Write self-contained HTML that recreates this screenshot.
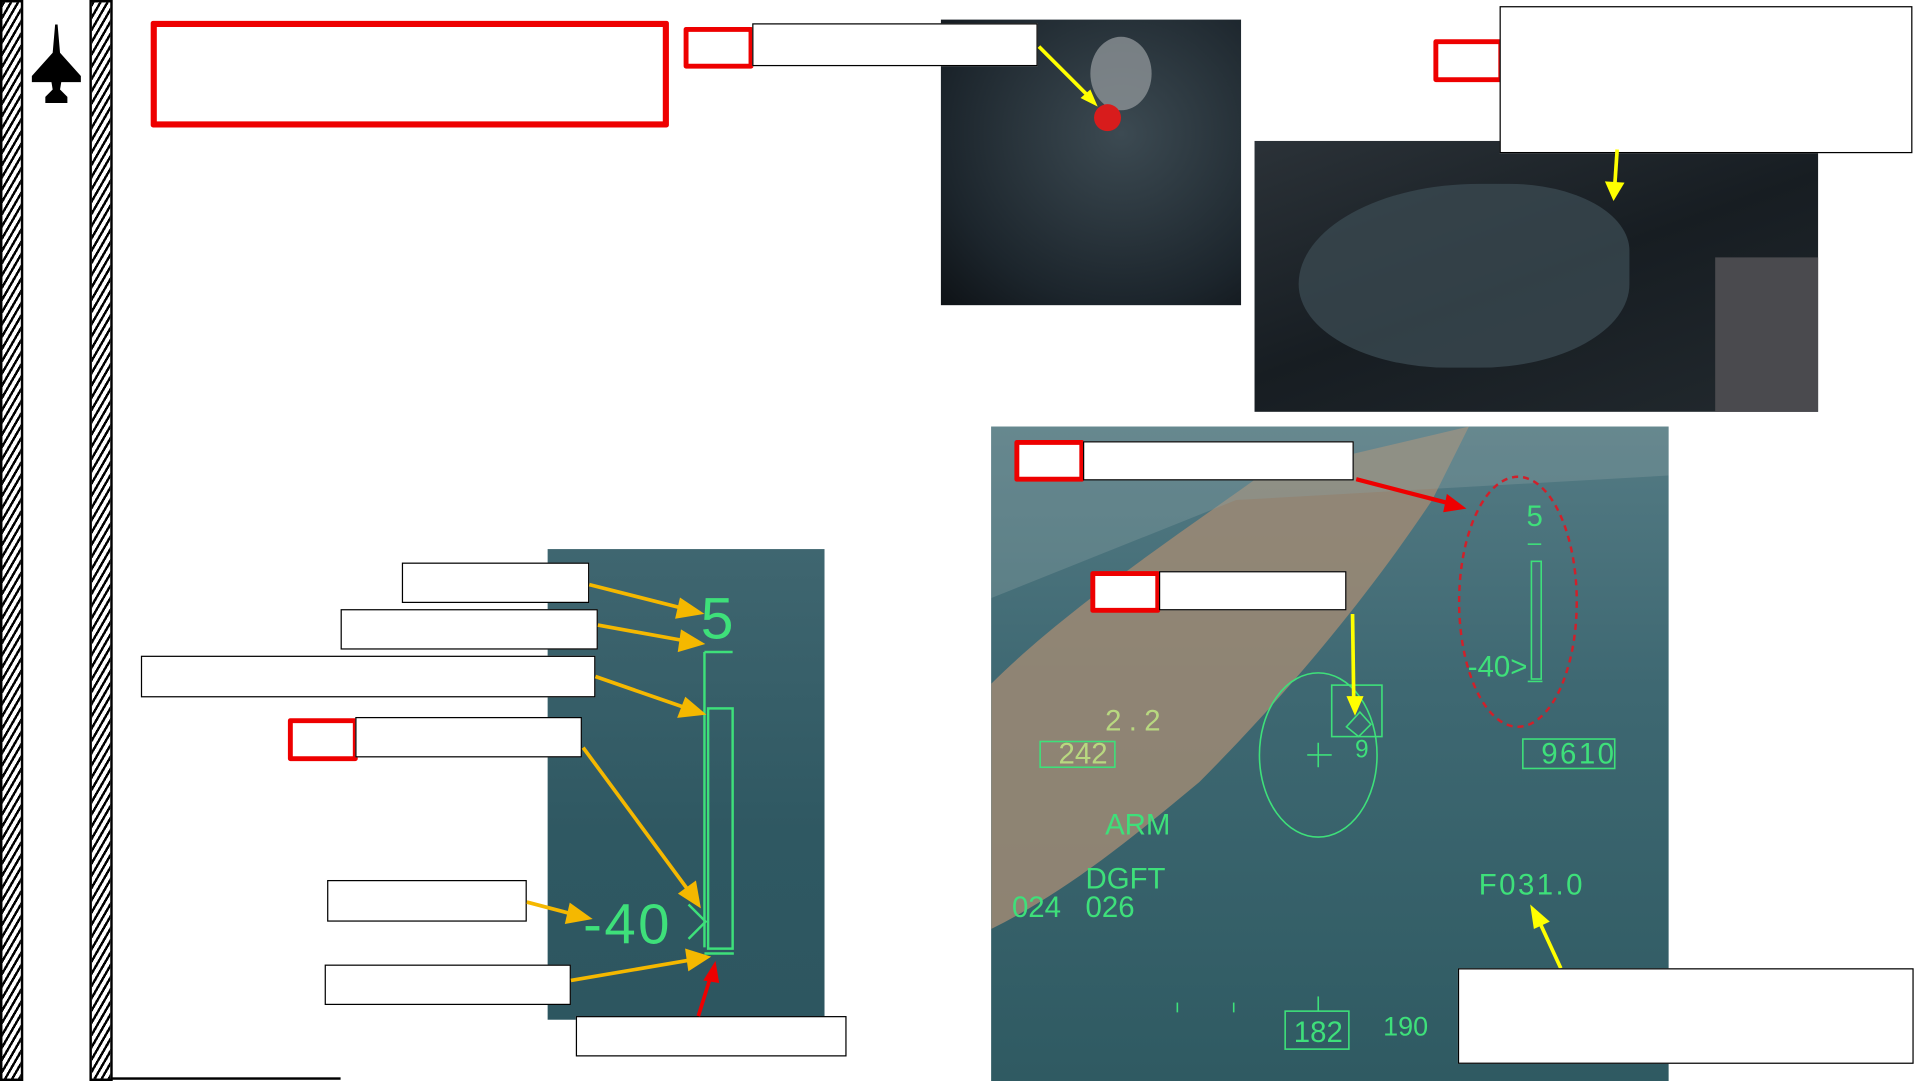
<!DOCTYPE html>
<html><head><meta charset="utf-8"><style>
html,body{margin:0;padding:0;background:#fff;overflow:hidden;width:1921px;height:1081px}
#w{position:absolute;left:0;top:0;width:1568px;height:882px;transform:scale(1.22513,1.22562);transform-origin:0 0;font-family:"Liberation Sans",sans-serif}
.a{position:absolute;box-sizing:border-box}
.wb{background:#fff;border:1.5px solid #000}
.rb{border:4px solid #e00;background:#fff;border-radius:2px}
.hatch{background:repeating-linear-gradient(-60deg,#000 0 2px,#fff 2px 5px);border:2px solid #000}
.g{color:#3ee07a;font-family:"Liberation Sans Narrow","Liberation Sans",sans-serif;position:absolute;line-height:1}
</style></head><body><div id="w">
<div class="a hatch" style="left:0;top:0;width:19px;height:882px"></div>
<div class="a hatch" style="left:73px;top:0;width:19px;height:882px"></div>
<div class="a" style="left:91px;top:879px;width:187px;height:2px;background:#000"></div>
<svg class="a" style="left:24px;top:18px" width="44" height="68" viewBox="0 0 44 68"><path d="M21 2 L23 2 L25 25 L42 44 L42 49 L26 49 L25 55 L31 61 L31 66 L13 66 L13 61 L19 55 L18 49 L2 49 L2 44 L19 25 Z" fill="#000"/></svg>
<div class="a rb" style="left:123px;top:17px;width:423px;height:87px;border-width:5px"></div>
<div class="a" style="left:768px;top:16px;width:245px;height:233px;background:radial-gradient(ellipse at 60% 40%,#3c4a52,#1c252c 70%,#0e1216)"></div>
<div class="a" style="left:890px;top:30px;width:50px;height:60px;border-radius:50%;background:#8c9296;opacity:.8"></div>
<div class="a" style="left:893px;top:85px;width:22px;height:22px;border-radius:50%;background:#d81c1c"></div>
<div class="a rb" style="left:558px;top:22px;width:57px;height:34px"></div>
<div class="a wb" style="left:614px;top:19px;width:233px;height:35px"></div>
<svg class="a" style="left:840px;top:30px" width="70" height="70"><line x1="8" y1="8" x2="50" y2="50" stroke="#ff0" stroke-width="3"/><polygon points="56,57 42,50 50,43" fill="#ff0"/></svg>
<div class="a" style="left:1024px;top:115px;width:460px;height:221px;background:linear-gradient(160deg,#2b3238,#171d22 50%,#22292e);"></div>
<div class="a" style="left:1060px;top:150px;width:270px;height:150px;border-radius:60% 40% 50% 50%;background:#3a4850;opacity:.8"></div>
<div class="a" style="left:1400px;top:210px;width:84px;height:126px;background:#4a4a4e"></div>
<div class="a rb" style="left:1170px;top:32px;width:57px;height:35px"></div>
<div class="a wb" style="left:1224px;top:5px;width:337px;height:120px"></div>
<svg class="a" style="left:1305px;top:120px" width="30" height="50"><line x1="15" y1="2" x2="13" y2="32" stroke="#ff0" stroke-width="3"/><polygon points="12,44 5,28 21,29" fill="#ff0"/></svg>
<!-- right HUD -->
<div class="a" style="left:809px;top:348px;width:553px;height:534px;background:linear-gradient(180deg,#547b84 0%,#3e6872 40%,#2f5a62 100%);overflow:hidden">
<svg class="a" style="left:0;top:0" width="553" height="534"><path d="M0 210 C60 150 150 90 220 40 L390 0 L360 60 C300 150 230 230 170 290 C110 340 60 380 0 410 Z" fill="#9e8a74" opacity=".85"/><path d="M0 0 L553 0 L553 40 L200 60 L0 140Z" fill="#8aa0a2" opacity=".35"/></svg>
</div>
<svg class="a" style="left:809px;top:348px" width="553" height="534">
<g fill="none" stroke="#3ee07a" stroke-width="1.3">
<ellipse cx="267" cy="268" rx="48" ry="67"/>
<rect x="278" y="211" width="41" height="42"/>
<polygon points="290,245 301,233 310,243 300,253"/>
<line x1="258" y1="268" x2="278" y2="268"/><line x1="267" y1="258" x2="267" y2="278"/>
<rect x="40" y="257" width="61" height="21"/>
<rect x="434" y="255" width="75" height="24"/>
<rect x="240" y="477" width="52" height="31"/>
<line x1="267" y1="465" x2="267" y2="477"/>
<rect x="441" y="110" width="8" height="96"/>
<line x1="438" y1="96" x2="449" y2="96"/>
<line x1="438" y1="208" x2="450" y2="208"/>
<line x1="152" y1="470" x2="152" y2="478"/><line x1="198" y1="470" x2="198" y2="478"/>
</g>
<ellipse cx="430" cy="143" rx="48" ry="102" fill="none" stroke="#d0202a" stroke-width="2" stroke-dasharray="5,4"/>
<line x1="295" y1="153" x2="296" y2="225" stroke="#ff0" stroke-width="3"/><polygon points="297,236 290,220 304,220" fill="#ff0"/>
<line x1="298" y1="43" x2="375" y2="63" stroke="#e00" stroke-width="3.5"/><polygon points="388,67 372,55 369,70" fill="#e00"/>
<line x1="465" y1="442" x2="447" y2="403" stroke="#ff0" stroke-width="3"/><polygon points="440,390 443,410 456,404" fill="#ff0"/>
</svg>
<div class="g" style="left:902px;top:577px;font-size:24px;color:#b8d880;letter-spacing:6px">2.2</div>
<div class="g" style="left:864px;top:604px;font-size:24px;color:#b8d880">242</div>
<div class="g" style="left:1106px;top:602px;font-size:20px">9</div>
<div class="g" style="left:1258px;top:604px;font-size:24px;letter-spacing:2px">9610</div>
<div class="g" style="left:1246px;top:410px;font-size:24px">5</div>
<div class="g" style="left:1198px;top:533px;font-size:24px">-40&gt;</div>
<div class="g" style="left:902px;top:662px;font-size:24px">ARM</div>
<div class="g" style="left:886px;top:706px;font-size:24px">DGFT</div>
<div class="g" style="left:826px;top:729px;font-size:24px">024 &nbsp;&nbsp;026</div>
<div class="g" style="left:1207px;top:711px;font-size:24px;letter-spacing:2px">F031.0</div>
<div class="g" style="left:1056px;top:831px;font-size:24px">182</div>
<div class="g" style="left:1129px;top:827px;font-size:22px">190</div>
<div class="a rb" style="left:828px;top:359px;width:57px;height:34px"></div>
<div class="a wb" style="left:884px;top:360px;width:221px;height:32px"></div>
<div class="a rb" style="left:890px;top:466px;width:57px;height:34px"></div>
<div class="a wb" style="left:946px;top:466px;width:153px;height:32px"></div>
<div class="a wb" style="left:1190px;top:790px;width:372px;height:78px"></div>
<!-- left HUD -->
<div class="a" style="left:447px;top:448px;width:226px;height:384px;background:linear-gradient(180deg,#3f6670,#2f5862 60%,#2d5660)"></div>
<svg class="a" style="left:447px;top:448px" width="226" height="384">
<g fill="none" stroke="#3ee07a" stroke-width="2">
<rect x="131" y="130" width="20" height="196"/>
<line x1="128" y1="84" x2="151" y2="84"/><line x1="128" y1="84" x2="128" y2="325"/>
<line x1="128" y1="330" x2="152" y2="330"/>
<polyline points="115,290 129,304 115,318"/>
</g></svg>
<div class="g" style="left:572px;top:482px;font-size:48px">5</div>
<div class="g" style="left:476px;top:731px;font-size:46px;letter-spacing:2px">-40</div>
<div class="a wb" style="left:328px;top:459px;width:153px;height:33px"></div>
<div class="a wb" style="left:278px;top:497px;width:210px;height:33px"></div>
<div class="a wb" style="left:115px;top:535px;width:371px;height:34px"></div>
<div class="a rb" style="left:235px;top:586px;width:57px;height:35px"></div>
<div class="a wb" style="left:290px;top:585px;width:185px;height:33px"></div>
<div class="a wb" style="left:267px;top:718px;width:163px;height:34px"></div>
<div class="a wb" style="left:265px;top:787px;width:201px;height:33px"></div>
<div class="a wb" style="left:470px;top:829px;width:221px;height:33px"></div>
<svg class="a" style="left:0;top:0" width="700" height="882">
<g stroke="#f5b800" stroke-width="3" fill="#f5b800">
<line x1="481" y1="477" x2="560" y2="497"/><polygon points="571,500 556,490 553,503"/>
<line x1="488" y1="510" x2="560" y2="523"/><polygon points="572,525 557,516 555,530"/>
<line x1="486" y1="552" x2="561" y2="578"/><polygon points="573,582 560,571 555,584"/>
<line x1="476" y1="610" x2="563" y2="728"/><polygon points="570,738 567,721 556,729"/>
<line x1="430" y1="736" x2="468" y2="746"/><polygon points="480,749 466,739 463,752"/>
<line x1="466" y1="800" x2="565" y2="783"/><polygon points="577,781 561,776 563,790"/>
</g>
<line x1="570" y1="829" x2="580" y2="797" stroke="#e00" stroke-width="3"/><polygon points="584,784 574,800 587,802" fill="#e00"/>
</svg>
</div></body></html>
